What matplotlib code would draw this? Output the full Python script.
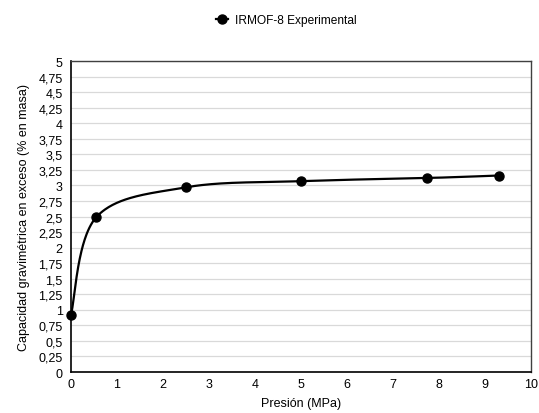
import numpy as np
import matplotlib
matplotlib.use("Agg")
import matplotlib.pyplot as plt
from matplotlib.ticker import FuncFormatter, MultipleLocator

pressure = [0.0, 0.55, 2.5, 5.0, 7.75, 9.3]
capacity = [0.92, 2.49, 2.97, 3.07, 3.12, 3.16]
series_name = "IRMOF-8 Experimental"

plt.rcParams['font.family'] = ['Liberation Sans', 'DejaVu Sans']

fig = plt.figure(figsize=(5.39, 4.14), dpi=100)
ax = fig.add_axes([0.1317, 0.099, 0.8533, 0.751])

xlim = (0, 10)
ylim = (0, 5)

def smooth(xs, ys, n=60):
    # Excel-like Bezier smoothing, computed in normalized axis space
    sx = 1.0 / (xlim[1] - xlim[0]) * 460
    sy = 1.0 / (ylim[1] - ylim[0]) * 311
    P = np.column_stack([np.array(xs) * sx, np.array(ys) * sy])
    out = []
    m = len(P)
    for i in range(m - 1):
        p0 = P[i - 1] if i > 0 else P[i]
        p1 = P[i]
        p2 = P[i + 1]
        p3 = P[i + 2] if i + 2 < m else P[i + 1]
        c1 = p1 + (p2 - p0) / 6.0
        c2 = p2 - (p3 - p1) / 6.0
        t = np.linspace(0, 1, n)[:, None]
        seg = ((1 - t) ** 3) * p1 + 3 * ((1 - t) ** 2) * t * c1 + 3 * (1 - t) * t ** 2 * c2 + t ** 3 * p2
        out.append(seg if i == 0 else seg[1:])
    out = np.vstack(out)
    return out[:, 0] / sx, out[:, 1] / sy

cx, cy = smooth(pressure, capacity)
ax.plot(cx, cy, color='black', lw=1.6, zorder=3, solid_capstyle='round')
ax.plot(pressure, capacity, 'o', color='black', ms=6.5, zorder=4, clip_on=False)
ax.plot([], [], '-o', color='black', lw=1.6, ms=6.5, label=series_name)

ax.set_xlim(*xlim)
ax.set_ylim(*ylim)
ax.xaxis.set_major_locator(MultipleLocator(1))
ax.yaxis.set_major_locator(MultipleLocator(0.25))

def fmt(v, pos):
    s = ('%.2f' % v).rstrip('0').rstrip('.')
    return s.replace('.', ',')

ax.yaxis.set_major_formatter(FuncFormatter(fmt))
ax.xaxis.set_major_formatter(FuncFormatter(fmt))
ax.grid(axis='y', color='#d9d9d9', lw=0.9)
ax.set_axisbelow(True)
ax.tick_params(axis='y', length=0, labelsize=9, pad=6)
ax.tick_params(axis='x', length=0, labelsize=9, pad=4.5)
for side in ['left', 'bottom']:
    ax.spines[side].set_color('black')
    ax.spines[side].set_linewidth(1.2)
for side in ['top', 'right']:
    ax.spines[side].set_color('#404040')
    ax.spines[side].set_linewidth(1.0)

ax.set_xlabel('Presión (MPa)', fontsize=9, labelpad=5)
ax.set_ylabel('Capacidad gravimétrica en exceso (% en masa)', fontsize=9, labelpad=6)

fig.legend(loc='center', bbox_to_anchor=(0.532, 0.95), frameon=False, fontsize=8.6,
           handlelength=1.0, handletextpad=0.6)

fig.savefig('out.png', dpi=100)
